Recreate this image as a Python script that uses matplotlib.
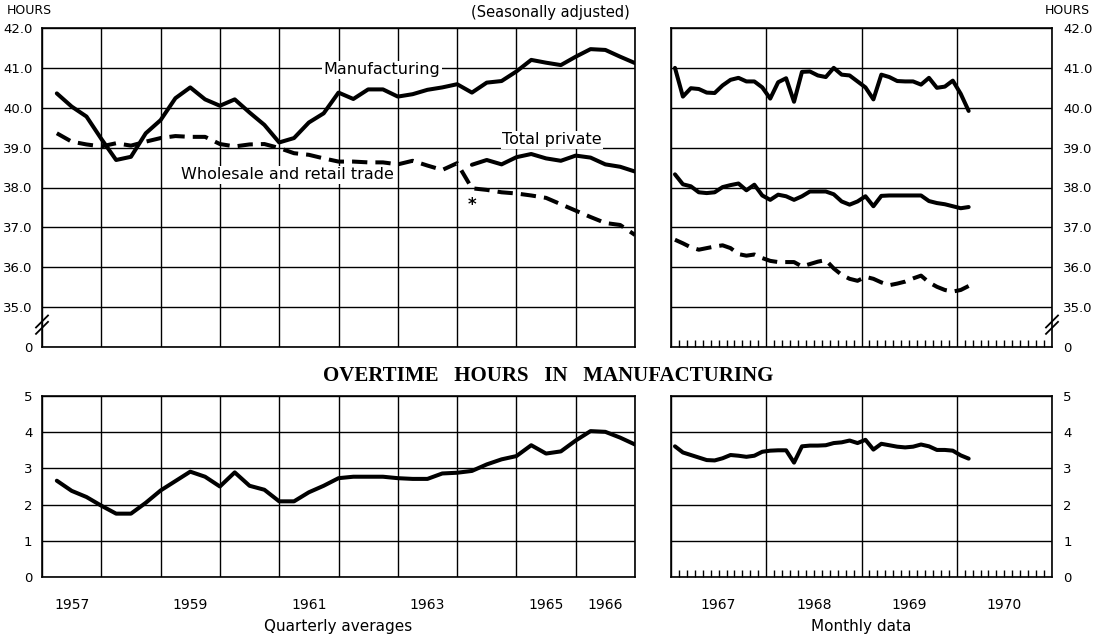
import matplotlib
matplotlib.use("Agg")
import matplotlib.pyplot as plt
import matplotlib.transforms as mtransforms
import numpy as np

# ---------------- data ----------------
quarter_years = list(range(1957, 1967))          # 1957..1966, 4 quarters each
month_start_year = 1967                          # Jan 1967 .. Feb 1970

mfg_quarterly = [40.36, 40.03, 39.78, 39.22, 38.69, 38.77, 39.36, 39.69, 40.24, 40.51,
                 40.21, 40.05, 40.21, 39.88, 39.57, 39.13, 39.24, 39.63, 39.86, 40.38,
                 40.22, 40.46, 40.46, 40.28, 40.34, 40.45, 40.51, 40.59, 40.38, 40.63,
                 40.67, 40.91, 41.20, 41.13, 41.07, 41.28, 41.47, 41.45, 41.28, 41.12]
trade_quarterly = [39.36, 39.15, 39.08, 39.03, 39.11, 39.05, 39.15, 39.24, 39.29, 39.27,
                   39.27, 39.09, 39.03, 39.08, 39.09, 38.99, 38.86, 38.82, 38.73, 38.65,
                   38.65, 38.63, 38.63, 38.58, 38.67, 38.55, 38.44, 38.61, 37.98, 37.94,
                   37.88, 37.85, 37.80, 37.74, 37.58, 37.42, 37.26, 37.11, 37.06, 36.81]
# total private shown from 1964 Q1 onward
total_quarterly_start = 28
total_quarterly = [38.57, 38.69, 38.58, 38.76, 38.84, 38.73, 38.67, 38.80, 38.75, 38.58,
                   38.52, 38.40]
overtime_quarterly = [2.66, 2.38, 2.21, 1.97, 1.75, 1.75, 2.05, 2.39, 2.65, 2.91,
                      2.77, 2.50, 2.89, 2.52, 2.41, 2.09, 2.09, 2.34, 2.52, 2.73,
                      2.77, 2.77, 2.77, 2.73, 2.71, 2.71, 2.86, 2.88, 2.93, 3.11,
                      3.25, 3.34, 3.64, 3.41, 3.47, 3.77, 4.03, 4.01, 3.85, 3.66]

mfg_monthly = [41.00, 40.28, 40.49, 40.47, 40.38, 40.37, 40.56, 40.70, 40.75, 40.66,
               40.66, 40.51, 40.23, 40.64, 40.74, 40.15, 40.90, 40.91, 40.81, 40.77,
               41.00, 40.83, 40.81, 40.66, 40.51, 40.21, 40.83, 40.77, 40.67, 40.66,
               40.66, 40.58, 40.75, 40.50, 40.53, 40.68, 40.35, 39.92]
total_monthly = [38.33, 38.08, 38.03, 37.88, 37.86, 37.88, 38.01, 38.06, 38.10, 37.93,
                 38.07, 37.80, 37.69, 37.82, 37.78, 37.69, 37.78, 37.90, 37.90, 37.90,
                 37.83, 37.65, 37.57, 37.65, 37.78, 37.53, 37.79, 37.80, 37.80, 37.80,
                 37.80, 37.80, 37.66, 37.61, 37.58, 37.53, 37.48, 37.51]
trade_monthly = [36.69, 36.60, 36.50, 36.44, 36.48, 36.52, 36.55, 36.48, 36.33, 36.29,
                 36.32, 36.23, 36.16, 36.13, 36.13, 36.13, 36.02, 36.08, 36.14, 36.18,
                 35.97, 35.81, 35.71, 35.66, 35.76, 35.71, 35.62, 35.55, 35.59, 35.64,
                 35.72, 35.79, 35.62, 35.51, 35.43, 35.39, 35.43, 35.53]
overtime_monthly = [3.61, 3.44, 3.37, 3.30, 3.23, 3.22, 3.28, 3.37, 3.35, 3.32,
                    3.35, 3.46, 3.49, 3.50, 3.50, 3.16, 3.61, 3.63, 3.63, 3.64,
                    3.70, 3.72, 3.77, 3.70, 3.79, 3.52, 3.68, 3.64, 3.60, 3.58,
                    3.60, 3.66, 3.61, 3.51, 3.51, 3.49, 3.36, 3.27]

hours_ticks = [34, 35, 36, 37, 38, 39, 40, 41, 42]
hours_labels = ["0", "35.0", "36.0", "37.0", "38.0", "39.0", "40.0", "41.0", "42.0"]
ot_ticks = [0, 1, 2, 3, 4, 5]
ot_labels = ["0", "1", "2", "3", "4", "5"]
quarter_year_labels = ["1957", "", "1959", "", "1961", "", "1963", "", "1965", "1966"]
month_years = [1967, 1968, 1969, 1970]
month_year_labels = ["1967", "1968", "1969", "1970"]

# ---------------- positions ----------------
nq = len(mfg_quarterly)
xq = quarter_years[0] + 0.25 * (np.arange(nq) + 1)
nm = len(mfg_monthly)
xm = month_start_year + (np.arange(nm) + 0.5) / 12.0
xq_total = xq[total_quarterly_start:total_quarterly_start + len(total_quarterly)]

W, H = 1097, 639
fig = plt.figure(figsize=(W / 100, H / 100), dpi=100)
plt.rcParams['font.family'] = ['DejaVu Sans']

def axes_px(x0, y0, x1, y1):
    return fig.add_axes([x0 / W, 1 - y1 / H, (x1 - x0) / W, (y1 - y0) / H])

ax1 = axes_px(42, 28, 635, 347)
ax2 = axes_px(671, 28, 1052, 347)
ax3 = axes_px(42, 396, 635, 577)
ax4 = axes_px(671, 396, 1052, 577)

LW = 2.9
GRID_LW = 1.0
dash = (3.8, 2.0)

for ax in (ax1, ax2, ax3, ax4):
    for s in ax.spines.values():
        s.set_linewidth(1.2)
        s.set_color('black')
    ax.grid(True, which='major', color='black', linewidth=GRID_LW)
    ax.set_axisbelow(True)

# x axes
ax1.set_xlim(1957, 1967)
ax3.set_xlim(1957, 1967)
ax2.set_xlim(1967, 1971)
ax4.set_xlim(1967, 1971)
for ax in (ax1, ax3):
    ax.set_xticks(np.arange(1957, 1968))
    ax.tick_params(axis='x', length=0, labelbottom=False)
for ax in (ax2, ax4):
    ax.set_xticks(np.arange(1967, 1972))
    ax.set_xticks(np.arange(1967, 1971 + 1e-9, 1 / 12), minor=True)
    ax.tick_params(axis='x', which='major', length=0, labelbottom=False)
    ax.tick_params(axis='x', which='minor', direction='in', length=5, width=1.0,
                   color='black', labelbottom=False)

# y axes
for ax in (ax1, ax2):
    ax.set_ylim(34, 42)
    ax.set_yticks(hours_ticks)
    ax.set_yticklabels(hours_labels)
for ax in (ax3, ax4):
    ax.set_ylim(0, 5)
    ax.set_yticks(ot_ticks)
    ax.set_yticklabels(ot_labels)
for ax in (ax1, ax3):
    ax.tick_params(axis='y', length=0, pad=7, labelsize=9.5)
for ax in (ax2, ax4):
    ax.yaxis.tick_right()
    ax.tick_params(axis='y', length=0, pad=8, labelsize=9.5, right=False)

# lines
kw = dict(color='black', linewidth=LW, solid_joinstyle='round', solid_capstyle='round',
          dash_joinstyle='round', dash_capstyle='butt')
ax1.plot(xq, mfg_quarterly, **kw)
ax1.plot(xq, trade_quarterly, linestyle=(0, dash), **kw)
ax1.plot(xq_total, total_quarterly, **kw)
ax3.plot(xq, overtime_quarterly, **kw)
ax2.plot(xm, mfg_monthly, **kw)
ax2.plot(xm, total_monthly, **kw)
ax2.plot(xm, trade_monthly, linestyle=(0, dash), **kw)
ax4.plot(xm, overtime_monthly, **kw)

# series labels
box = dict(facecolor='white', edgecolor='none', pad=1.0)
ax1.text(1962.73, 40.95, "Manufacturing", ha='center', va='center', fontsize=11.5, bbox=box, zorder=5)
ax1.text(1965.6, 39.2, "Total private", ha='center', va='center', fontsize=11.5, bbox=box, zorder=5)
ax1.text(1961.14, 38.32, "Wholesale and retail trade", ha='center', va='center', fontsize=11.5,
         bbox=box, zorder=5)
ax1.text(1964.25, 37.55, "*", ha='center', va='center', fontsize=12, fontweight='bold')

# year labels
for ax, years, labels in ((ax3, quarter_years, quarter_year_labels), (ax4, month_years, month_year_labels)):
    tr = mtransforms.blended_transform_factory(ax.transData, ax.transAxes)
    for yv, lab in zip(years, labels):
        if lab:
            ax.text(yv + 0.5, -28 / 181, lab, transform=tr, ha='center', va='center', fontsize=10)

fig.text(338.5 / W, 1 - 627 / H, "Quarterly averages", ha='center', va='center', fontsize=11)
fig.text(861.5 / W, 1 - 627 / H, "Monthly data", ha='center', va='center', fontsize=11)

# headings
fig.text(7 / W, 1 - 11 / H, "HOURS", ha='left', va='center', fontsize=9)
fig.text(1090 / W, 1 - 11 / H, "HOURS", ha='right', va='center', fontsize=9)
fig.text(630 / W, 1 - 13 / H, "(Seasonally adjusted)", ha='right', va='center', fontsize=10.5)
fig.text(548 / W, 1 - 376 / H, "OVERTIME   HOURS   IN   MANUFACTURING", ha='center', va='center',
         fontsize=15, fontweight='bold', family=['Liberation Serif', 'DejaVu Serif'])

# axis break marks
def break_mark(ax, xfrac, wpx, hpx):
    hx = 6 / wpx
    hy = 6 / hpx
    for c in (0.060, 0.080):
        ax.plot([xfrac - hx, xfrac + hx], [c - hy, c + hy], transform=ax.transAxes,
                color='black', linewidth=1.3, clip_on=False, zorder=6)

break_mark(ax1, 0.0, 593, 319)
break_mark(ax2, 1.0, 381, 319)

fig.savefig("out.png", dpi=100)
